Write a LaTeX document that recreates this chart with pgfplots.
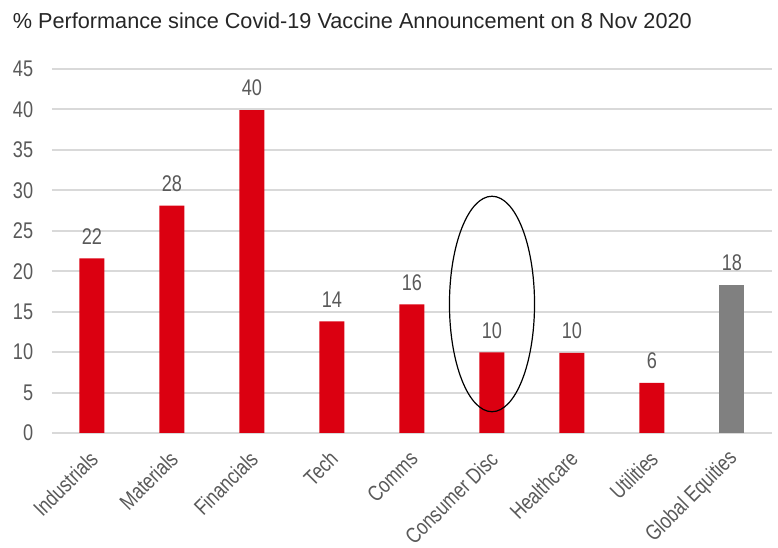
\documentclass[border=0pt]{standalone}
\usepackage{fontspec}
\setmainfont{Liberation Sans}
\usepackage{pgfplots}
\pgfplotsset{compat=1.18}
\definecolor{barred}{HTML}{DB0011}
\definecolor{bargray}{HTML}{808080}
\definecolor{gridgray}{HTML}{D9D9D9}
\definecolor{labgray}{HTML}{595959}
\definecolor{titlegray}{HTML}{262626}
\begin{document}
\begin{tikzpicture}
\begin{axis}[
    at={(0,0)}, anchor=south west,
    scale only axis, width=540pt, height=273pt,
    xmin=-0.5, xmax=8.5, ymin=0, ymax=45,
    ytick={0,5,...,45},
    xtick={0,...,8},
    xticklabels={Industrials,Materials,Financials,Tech,Comms,Consumer Disc,Healthcare,Utilities,Global Equities},
    axis line style={draw=none},
    major tick length=0pt,
    ymajorgrids, grid style={gridgray, line width=1.5pt},
    /pgf/number format/assume math mode=true,
    every tick label/.append style={text=labgray},
    yticklabel style={font=\fontsize{17}{19}\selectfont, inner sep=0pt, anchor=east, xshift=-14pt, xscale=0.8},
    xticklabel style={font=\fontsize{16.5}{18}\selectfont, inner sep=1pt, anchor=east, xshift=2pt, yshift=-16pt, rotate=45, xscale=0.8},
    ybar, bar width=18.75pt, bar shift=0pt,
    nodes near coords,
    every node near coord/.append style={font=\fontsize{17}{19}\selectfont, text=labgray, xscale=0.8, yshift=7pt},
    /pgf/number format/.cd, fixed, precision=0,
]
\addplot[fill=barred, draw=none] coordinates {
    (0,21.6) (1,28.1) (2,39.9) (3,13.8) (4,15.9) (5,9.97) (6,9.9) (7,6.2)
};
\addplot[fill=bargray, draw=none] coordinates {
    (8,18.3)
};
\draw[black, line width=0.9pt] (axis cs:5,15.95) ellipse [x radius=31.9pt, y radius=80.8pt];
\end{axis}
\node[anchor=base west, inner sep=0pt, text=titlegray, font=\fontsize{16.25}{18}\selectfont] at (-29.5pt, 303pt) {\% Performance since Covid-19 Vaccine Announcement on 8 Nov 2020};
\pgfresetboundingbox
\path (-39pt,-86.25pt) rectangle (544.5pt,324.75pt);
\end{tikzpicture}
\end{document}
